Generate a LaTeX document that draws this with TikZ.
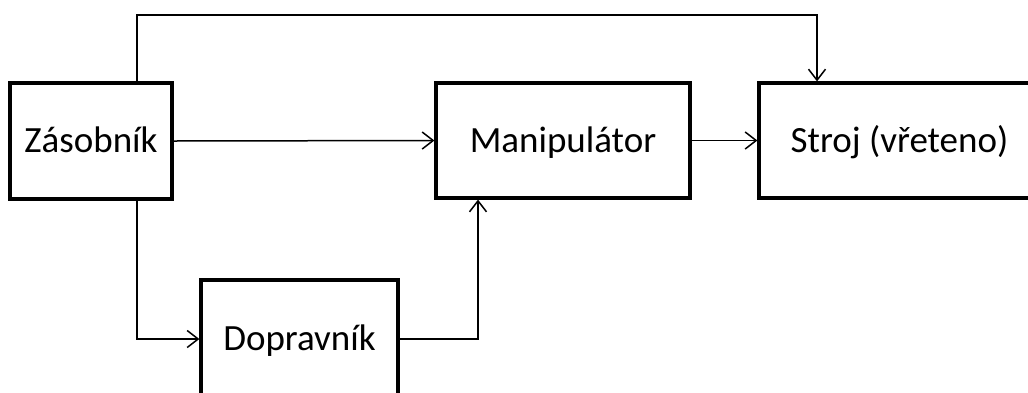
\documentclass[tikz,border=0pt]{standalone}
\usepackage{fontspec}
\setmainfont{Carlito}
\usetikzlibrary{arrows.meta}
\begin{document}
\begin{tikzpicture}[x=1pt, y=-1pt,
  block/.style={draw, line width=3.2pt, inner sep=0pt, text height=23.5pt, text depth=0pt,
    font=\fontsize{37}{42}\selectfont},
  flow/.style={line width=1.5pt, -{Straight Barb[length=11pt,width=17pt,line width=1.5pt]}}]
  \useasboundingbox (0,0) rectangle (1028,392);
  \fill[white] (0,0) rectangle (1028,392);
  \clip (0,0) rectangle (1028,392);

  % blocks
  \node[block, minimum width=162pt, minimum height=116pt] (zas) at (91,141) {Zásobník};
  \node[block, minimum width=254pt, minimum height=115pt] (man) at (563,140.5) {Manipulátor};
  \node[block, minimum width=281pt, minimum height=115pt] (str) at (899.5,140.5) {Stroj (vřeteno)};
  \node[block, minimum width=197pt, minimum height=118pt] (dop) at (299.5,339) {Dopravník};

  % bend points of the routed connectors
  \coordinate (tl) at (137,15);
  \coordinate (tr) at (817,15);
  \coordinate (bl) at (137,339);
  \coordinate (br) at (478,339);

  % connectors
  \draw[flow] (zas.north -| tl) -- (tl) -- (tr) -- (str.north -| tr);
  \draw[flow] (zas.east) -- (man.west);
  \draw[flow] (man.east) -- (str.west);
  \draw[flow] (zas.south -| bl) -- (bl) -- (dop.west);
  \draw[flow] (dop.east) -- (br) -- (man.south -| br);
\end{tikzpicture}
\end{document}
